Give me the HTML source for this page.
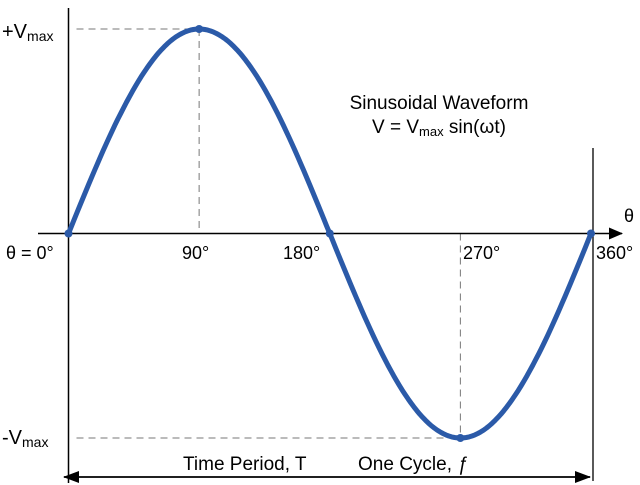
<!DOCTYPE html>
<html><head><meta charset="utf-8"><style>
html,body{margin:0;padding:0;background:#fff;}
svg{display:block;font-family:"Liberation Sans",sans-serif;}
</style></head><body>
<svg id="chart" width="640" height="485" viewBox="0 0 640 485">
<defs>
<marker id="ah" markerWidth="14" markerHeight="12" refX="13" refY="6" orient="auto" markerUnits="userSpaceOnUse"><path d="M0,0 L14,6 L0,12 z" fill="#000"/></marker>
<marker id="ah2" markerWidth="16" markerHeight="12" refX="15" refY="6" orient="auto-start-reverse" markerUnits="userSpaceOnUse"><path d="M0,0 L16,6 L0,12 z" fill="#000"/></marker>
</defs>
<g id="guides"></g>
<line x1="68.5" y1="8" x2="68.5" y2="483" stroke="#000" stroke-width="1.5"/>
<line x1="593" y1="148" x2="593" y2="481" stroke="#000" stroke-width="1.3"/>
<line x1="38" y1="233.5" x2="622" y2="233.5" stroke="#000" stroke-width="1.5" marker-end="url(#ah)"/>
<line x1="64" y1="477" x2="590" y2="477" stroke="#000" stroke-width="1.8" marker-start="url(#ah2)" marker-end="url(#ah2)"/>
<path id="wave" fill="none" stroke="#2b5aa8" stroke-width="5" stroke-linejoin="round"/>
<g id="dots"></g>
<g font-size="18" fill="#000">
<text x="2" y="38" font-size="20">+V<tspan font-size="14" dy="3">max</tspan></text>
<text x="2" y="444" font-size="20">-V<tspan font-size="14" dy="3">max</tspan></text>
<text x="624" y="222">θ</text>
<text x="6" y="259">θ = 0°</text>
<text x="182" y="259">90°</text>
<text x="283" y="259">180°</text>
<text x="463" y="259">270°</text>
<text x="596" y="259">360°</text>
<text x="439" y="109" text-anchor="middle" font-size="19">Sinusoidal Waveform</text>
<text x="439" y="133" text-anchor="middle" font-size="19">V = V<tspan font-size="13" dy="3">max</tspan><tspan dy="-3"> sin(ωt)</tspan></text>
<text x="183" y="470" font-size="19">Time Period, T</text>
<text x="358" y="470" font-size="19">One Cycle, <tspan font-style="italic">ƒ</tspan></text>
</g>
</svg>
<script>
const amplitudes=[1,-1];
const keyAngles=[0,90,180,270,360];
const x0=68.5,x1=591,yZero=233.5,yAmp=204.5;
function xs(d){return x0+d*(x1-x0)/360;}
function ys(v){return yZero-v*yAmp;}
const NS="http://www.w3.org/2000/svg";
let d="";
for(let a=0;a<=360;a+=2){d+=(a?"L":"M")+xs(a).toFixed(1)+","+ys(amplitudes[0]*Math.sin(a*Math.PI/180)).toFixed(1);}
document.getElementById('wave').setAttribute('d',d);
const g=document.getElementById('guides');
function dash(x1_,y1_,x2_,y2_,name){const l=document.createElementNS(NS,'line');
l.setAttribute('x1',x1_);l.setAttribute('y1',y1_);l.setAttribute('x2',x2_);l.setAttribute('y2',y2_);
l.setAttribute('stroke','#777');l.setAttribute('stroke-dasharray','7,5');l.setAttribute('stroke-width','1');


g.appendChild(l);}
dash(x0+8,ys(amplitudes[0]),xs(90),ys(amplitudes[0]),'peak-guide-h');
dash(xs(90),ys(amplitudes[0]),xs(90),yZero,'peak-guide-v');
dash(x0+8,ys(amplitudes[1]),xs(270),ys(amplitudes[1]),'trough-guide-h');
dash(xs(270),yZero,xs(270),ys(amplitudes[1]),'trough-guide-v');
const dg=document.getElementById('dots');
keyAngles.forEach(a=>{const c=document.createElementNS(NS,'circle');
c.setAttribute('cx',xs(a));c.setAttribute('cy',ys(amplitudes[0]*Math.sin(a*Math.PI/180)));c.setAttribute('r','4');c.setAttribute('fill','#2b5aa8');


dg.appendChild(c);});
</script>
</body></html>
